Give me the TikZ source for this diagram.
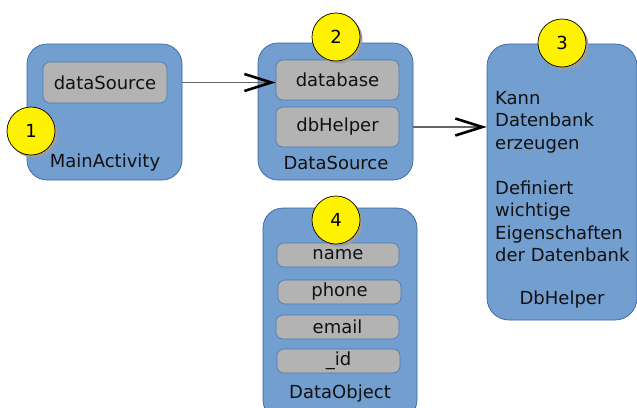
\documentclass[tikz,border=0pt]{standalone}
\usepackage{fontspec}
\setmainfont{DejaVu Sans}
\usetikzlibrary{arrows.meta,shadows,calc}
\definecolor{boxfill}{HTML}{729FCF}
\definecolor{boxedge}{HTML}{3465A4}
\definecolor{fieldfill}{HTML}{B3B3B3}
\definecolor{fieldedge}{HTML}{4A78B0}
\definecolor{txt}{HTML}{111111}
\tikzset{
  outerbox/.style={draw=boxedge, fill=boxfill, rounded corners=20pt, line width=0.7pt, inner sep=0pt},
  field/.style={draw=fieldedge, fill=fieldfill, rounded corners=7pt, line width=0.6pt, inner sep=0pt, font=\fontsize{18}{22}\selectfont, text=txt},
  badge/.style={circle, draw=black, line width=0.7pt, fill=yellow, minimum size=48pt, inner sep=0pt,
    font=\fontsize{18}{22}\selectfont, text=black,
    drop shadow={shadow xshift=2.5pt, shadow yshift=-2.5pt, fill=black!38, opacity=1}},
  caption/.style={font=\fontsize{18}{22.5}\selectfont, text=txt, inner sep=0pt},
  link/.style={draw=black!60, line width=1.2pt, -{Straight Barb[length=27pt,width=17pt,line width=2.6pt,black]}}
}
\begin{document}
\begin{tikzpicture}[x=1pt,y=-1pt]
  \useasboundingbox (0,0) rectangle (637,407);
  \clip (0,0) rectangle (637,407);

  % MainActivity
  \node[outerbox, minimum width=155pt, minimum height=136pt] (ma) at (104.5,112) {};
  \node[field, minimum width=124pt, minimum height=41pt] (dsrc) at (105,82.5) {dataSource};
  \node[caption] (maL) at (105,163) {MainActivity};
  \node[badge] (b1) at (31,131) {1};

  % DataSource
  \node[outerbox, minimum width=155pt, minimum height=137pt] (ds) at (335.5,111.5) {};
  \node[field, minimum width=123pt, minimum height=40pt] (db) at (337.5,80) {database};
  \node[field, minimum width=123pt, minimum height=40pt] (dbh) at (337.5,127) {dbHelper};
  \node[caption] (dsL) at (336,163) {DataSource};
  \node[badge] (b2) at (336,37) {2};

  % DbHelper
  \node[outerbox, rounded corners=22pt, minimum width=150pt, minimum height=276pt] (hp) at (562,182) {};
  \node[caption, anchor=north west, align=left] (hpT) at (495,91)
    {Kann\\Datenbank\\erzeugen\\[22.5pt]Definiert\\wichtige\\Eigenschaften\\der Datenbank};
  \node[caption] (hpL) at (562,300) {DbHelper};
  \node[badge] (b3) at (562,43) {3};

  % DataObject
  \node[outerbox, minimum width=154pt, minimum height=212pt] (dob) at (340,314) {};
  \node[field, minimum width=122pt, minimum height=24pt] (fn) at (338,255) {name};
  \node[field, minimum width=123pt, minimum height=24pt] (fp) at (339.5,292) {phone};
  \node[field, minimum width=123pt, minimum height=24pt] (fe) at (337.5,327) {email};
  \node[field, minimum width=123pt, minimum height=24pt] (fi) at (338.5,361) {\_id};
  \node[caption] (doL) at (340,394) {DataObject};
  \node[badge] (b4) at (336,220) {4};

  % connectors
  \draw[link] (ma.east |- dsrc) -- (db.west |- dsrc);
  \draw[link] (ds.east |- dbh) -- (hp.west |- dbh);
\end{tikzpicture}
\end{document}
